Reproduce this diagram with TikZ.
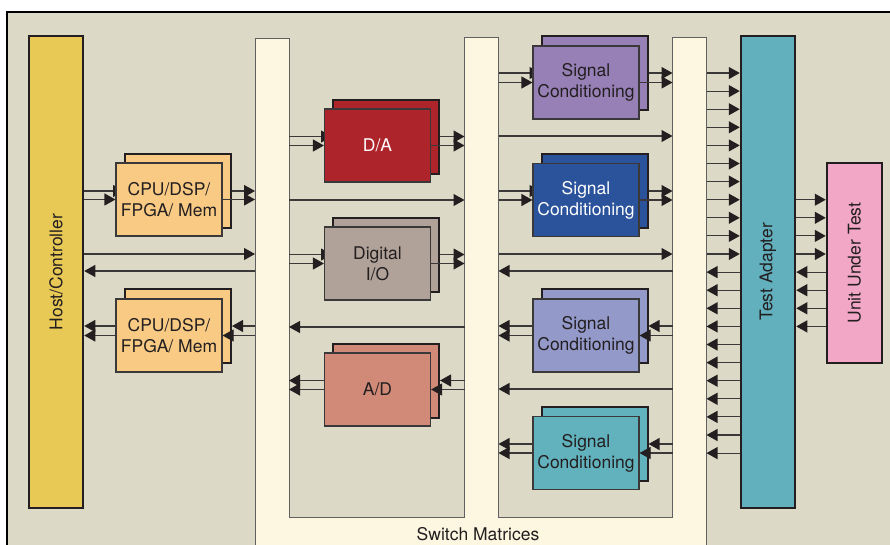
\documentclass[tikz,border=0pt]{standalone}
\usepackage{fontspec}
\setmainfont{TeX Gyre Heros}
\usetikzlibrary{arrows.meta}
\definecolor{bgc}{HTML}{DCD9C6}
\definecolor{cream}{HTML}{FDF7E1}
\definecolor{hostc}{HTML}{E8C955}
\definecolor{cpuc}{HTML}{F8CA84}
\definecolor{dac}{HTML}{AD242B}
\definecolor{dioc}{HTML}{B1A299}
\definecolor{adc}{HTML}{D08A77}
\definecolor{scA}{HTML}{9780B6}
\definecolor{scB}{HTML}{2B539C}
\definecolor{scC}{HTML}{9399C9}
\definecolor{scD}{HTML}{62B2BD}
\definecolor{tac}{HTML}{62B0BE}
\definecolor{uutc}{HTML}{F1A7C5}
\definecolor{linec}{HTML}{3A3838}
\definecolor{txt}{HTML}{231F20}
\begin{document}
\begin{tikzpicture}[x=1pt,y=-1pt,
  font=\fontsize{17.5}{21}\selectfont,
  frontbox/.style={draw=linec, line width=1.1pt, minimum width=106pt, minimum height=73pt, inner sep=0pt, align=center, text=txt},
  backbox/.style={draw=txt, line width=2pt, minimum width=106pt, minimum height=74pt, inner sep=0pt},
  bigbar/.style={draw=txt, line width=2.5pt, inner sep=0pt},
  column/.style={draw=none, minimum width=34pt, minimum height=480pt, inner sep=0pt, outer sep=0pt},
  arr/.style={draw=linec, line width=1.1pt, -{Triangle[length=11pt,width=12pt,color=txt]}},
  barlabel/.style={rotate=90, text=txt, inner sep=0pt}
]
\useasboundingbox (0,0) rectangle (890,544);
\clip (0,0) rectangle (890,544);
\fill[white] (0,0) rectangle (890,544);
\draw[fill=bgc, draw=black, line width=2pt] (7,12) rectangle (920,580);

% switch matrix columns (anchors)
\node[column] (sw1) at (272,280) {};
\node[column] (sw2) at (481.5,280) {};
\node[column] (sw3) at (689.5,280) {};
\coordinate (swtop1) at (272,38);
\coordinate (swtop) at (0,37);
\coordinate (swbot) at (0,517);
\coordinate (swend) at (0,600);
\draw[fill=cream, draw=linec!80, line width=0.9pt]
  (sw1.west |- swtop1) -- (sw1.east |- swtop1) -- (sw1.east |- swbot) -- (sw2.west |- swbot)
  -- (sw2.west |- swtop) -- (sw2.east |- swtop) -- (sw2.east |- swbot) -- (sw3.west |- swbot)
  -- (sw3.west |- swtop) -- (sw3.east |- swtop) -- (sw3.east |- swend) -- (sw1.west |- swend) -- cycle;
\node[text=txt] (swlbl) at (478,534.5) {Switch Matrices};

% big bars
\node[bigbar, fill=hostc, minimum width=54pt, minimum height=472pt] (host) at (56,272) {};
\node[bigbar, fill=tac, minimum width=54pt, minimum height=472pt] (ta) at (768,272) {};
\node[bigbar, fill=uutc, minimum width=55pt, minimum height=200pt] (uut) at (854.5,263) {};
\node[barlabel] (hostlbl) at (host) {Host/Controller};
\node[barlabel] (talbl) at (ta) {Test Adapter};
\node[barlabel] (uutlbl) at (uut) {Unit Under Test};

% back boxes
\node[backbox, fill=cpuc] (cpu1b) at (178,191) {};
\node[backbox, fill=cpuc] (cpu2b) at (178,326) {};
\node[backbox, fill=dac] (dab) at (386,136.5) {};
\node[backbox, fill=dioc] (diob) at (386,254.5) {};
\node[backbox, fill=adc] (adb) at (386,380.5) {};
\node[backbox, fill=scA] (sc1b) at (594.5,73) {};
\node[backbox, fill=scB] (sc2b) at (594.5,191) {};
\node[backbox, fill=scC] (sc3b) at (594.5,326) {};
\node[backbox, fill=scD] (sc4b) at (594.5,444) {};

% arrows hidden behind the front boxes
\draw[arr] (host.east |- cpu1b.west) -- (cpu1b.west);
\draw[arr] (sw1.east |- dab.west) -- (dab.west);
\draw[arr] (sw1.east |- diob.west) -- (diob.west);
\draw[arr] (sw2.east |- sc1b.west) -- (sc1b.west);
\draw[arr] (sw2.east |- sc2b.west) -- (sc2b.west);

% front boxes
\node[frontbox, fill=cpuc] (cpu1) at (169,199.5) {CPU/DSP/\\FPGA/ Mem};
\node[frontbox, fill=cpuc] (cpu2) at (169,335.5) {CPU/DSP/\\FPGA/ Mem};
\node[frontbox, fill=dac, text=white] (da) at (377.5,145.5) {D/A};
\node[frontbox, fill=dioc] (dio) at (377.5,263.5) {Digital\\I/O};
\node[frontbox, fill=adc] (ad) at (377.5,389.5) {A/D};
\node[frontbox, fill=scA] (sc1) at (586,82.5) {Signal\\Conditioning};
\node[frontbox, fill=scB, text=white] (sc2) at (586,200) {Signal\\Conditioning};
\node[frontbox, fill=scC] (sc3) at (586,335.5) {Signal\\Conditioning};
\node[frontbox, fill=scD] (sc4) at (586,453) {Signal\\Conditioning};

% host / cpu connections
\draw[arr] (host.east |- cpu1.west) -- (cpu1.west);
\draw[arr] (cpu1b.east) -- (sw1.west |- cpu1b.east);
\draw[arr] (cpu1.east) -- (sw1.west |- cpu1.east);
\draw[arr] (host.east |- 0,254) -- (sw1.west |- 0,254);
\draw[arr] (sw1.west |- 0,271) -- (host.east |- 0,271);
\draw[arr] (sw1.west |- cpu2b.east) -- (cpu2b.east);
\draw[arr] (sw1.west |- cpu2.east) -- (cpu2.east);
\draw[arr] (cpu2.west |- cpu2b.east) -- (host.east |- cpu2b.east);
\draw[arr] (cpu2.west) -- (host.east |- cpu2.west);

% D/A, Digital I/O, A/D
\draw[arr] (sw1.east |- da.west) -- (da.west);
\draw[arr] (dab.east) -- (sw2.west |- dab.east);
\draw[arr] (da.east) -- (sw2.west |- da.east);
\draw[arr] (sw1.east |- 0,200) -- (sw2.west |- 0,200);
\draw[arr] (sw1.east |- dio.west) -- (dio.west);
\draw[arr] (diob.east) -- (sw2.west |- diob.east);
\draw[arr] (dio.east) -- (sw2.west |- dio.east);
\draw[arr] (sw2.west |- 0,327) -- (sw1.east |- 0,327);
\draw[arr] (sw2.west |- adb.east) -- (adb.east);
\draw[arr] (sw2.west |- ad.east) -- (ad.east);
\draw[arr] (ad.west |- adb.east) -- (sw1.east |- adb.east);
\draw[arr] (ad.west) -- (sw1.east |- ad.west);

% signal conditioning
\draw[arr] (sw2.east |- sc1.west) -- (sc1.west);
\draw[arr] (sc1b.east) -- (sw3.west |- sc1b.east);
\draw[arr] (sc1.east) -- (sw3.west |- sc1.east);
\draw[arr] (sw2.east |- 0,136) -- (sw3.west |- 0,136);
\draw[arr] (sw2.east |- sc2.west) -- (sc2.west);
\draw[arr] (sc2b.east) -- (sw3.west |- sc2b.east);
\draw[arr] (sc2.east) -- (sw3.west |- sc2.east);
\draw[arr] (sw2.east |- 0,254) -- (sw3.west |- 0,254);
\draw[arr] (sw3.west |- 0,271) -- (sw2.east |- 0,271);
\draw[arr] (sw3.west |- sc3b.east) -- (sc3b.east);
\draw[arr] (sw3.west |- sc3.east) -- (sc3.east);
\draw[arr] (sc3.west |- sc3b.east) -- (sw2.east |- sc3b.east);
\draw[arr] (sc3.west) -- (sw2.east |- sc3.west);
\draw[arr] (sw3.west |- 0,389) -- (sw2.east |- 0,389);
\draw[arr] (sw3.west |- sc4b.east) -- (sc4b.east);
\draw[arr] (sw3.west |- sc4.east) -- (sc4.east);
\draw[arr] (sc4.west |- sc4b.east) -- (sw2.east |- sc4b.east);
\draw[arr] (sc4.west) -- (sw2.east |- sc4.west);

% switch matrix <-> test adapter
\foreach \k in {0,...,10} {
  \draw[arr] (sw3.east |- 0,{73+18.1*\k}) -- (ta.west |- 0,{73+18.1*\k});
}
\foreach \k in {11,...,21} {
  \draw[arr] (ta.west |- 0,{73+18.1*\k}) -- (sw3.east |- 0,{73+18.1*\k});
}
% test adapter <-> UUT
\foreach \k in {7,...,10} {
  \draw[arr] (ta.east |- 0,{73+18.1*\k}) -- (uut.west |- 0,{73+18.1*\k});
}
\foreach \k in {11,...,14} {
  \draw[arr] (uut.west |- 0,{73+18.1*\k}) -- (ta.east |- 0,{73+18.1*\k});
}
\end{tikzpicture}
\end{document}
